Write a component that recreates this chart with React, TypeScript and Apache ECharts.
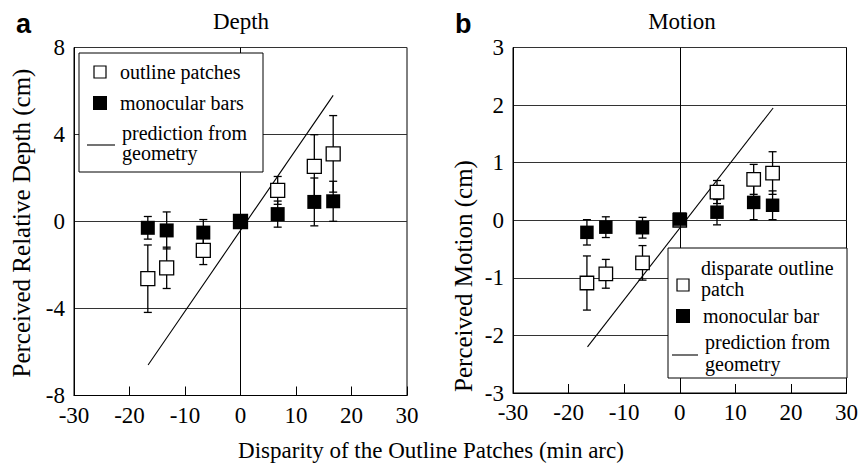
import React, { useEffect, useRef } from 'react';
import * as echarts from 'echarts';

// ---------- data ----------
const disparities = [-16.7, -13.3, -6.7, 0, 6.7, 13.3, 16.7];

const depthOutline = [-2.63, -2.13, -1.33, 0, 1.43, 2.53, 3.11];
const depthOutlineErr = [1.55, 0.95, 0.65, 0, 0.64, 1.46, 1.76];
const depthMono = [-0.29, -0.41, -0.51, 0, 0.34, 0.9, 0.93];
const depthMonoErr = [0.52, 0.85, 0.6, 0, 0.6, 1.1, 0.92];

const motionOutline = [-1.09, -0.93, -0.74, 0, 0.49, 0.71, 0.82];
const motionOutlineErr = [0.47, 0.25, 0.3, 0, 0.2, 0.26, 0.37];
const motionMono = [-0.21, -0.12, -0.13, 0.02, 0.14, 0.31, 0.26];
const motionMonoErr = [0.22, 0.18, 0.18, 0, 0.22, 0.3, 0.25];

const depthPredX = [-16.65, 16.7];
const depthPredY = [-6.6, 5.8];
const motionPredX = [-16.6, 16.8];
const motionPredY = [-2.2, 1.95];

const SERIF = 'Liberation Serif';
const SANS = 'Liberation Sans';

function pts(xs: number[], ys: number[]) {
  return xs.map((x, i) => [x, ys[i]]);
}
function errPts(xs: number[], ys: number[], es: number[]) {
  return xs.map((x, i) => [x, ys[i], es[i]]);
}

const errorRender = (params: any, api: any) => {
  const x = api.value(0);
  const y = api.value(1);
  const e = api.value(2);
  if (!e) return null;
  const top = api.coord([x, y + e]);
  const bot = api.coord([x, y - e]);
  const cap = 4;
  const style = { stroke: '#000', lineWidth: 1.3 };
  return {
    type: 'group',
    children: [
      { type: 'line', shape: { x1: top[0], y1: top[1], x2: bot[0], y2: bot[1] }, style },
      { type: 'line', shape: { x1: top[0] - cap, y1: top[1], x2: top[0] + cap, y2: top[1] }, style },
      { type: 'line', shape: { x1: bot[0] - cap, y1: bot[1], x2: bot[0] + cap, y2: bot[1] }, style },
    ],
  };
};

export default function App() {
  const ref = useRef<HTMLDivElement>(null);
  useEffect(() => {
    if (!ref.current) return;
    const chart = echarts.init(ref.current, undefined, { renderer: 'svg' });

    const xAxisBase = (gridIndex: number) => ({
      type: 'value',
      gridIndex,
      min: -30,
      max: 30,
      interval: 10,
      axisLine: { show: true, onZero: false, lineStyle: { color: '#000', width: 1 } },
      axisTick: { show: true, inside: true, length: 9, lineStyle: { color: '#000', width: 1 } },
      axisLabel: { color: '#000', fontFamily: SERIF, fontSize: 23, margin: 8 },
      splitLine: { show: false },
    });
    const yAxisBase = (gridIndex: number, min: number, max: number, interval: number) => ({
      type: 'value',
      gridIndex,
      min,
      max,
      interval,
      axisLine: { show: true, onZero: false, lineStyle: { color: '#000', width: 1 } },
      axisTick: { show: false },
      axisLabel: { color: '#000', fontFamily: SERIF, fontSize: 23, margin: 9 },
      splitLine: { show: true, lineStyle: { color: '#333', width: 1 } },
    });

    const zeroLine = {
      silent: true,
      symbol: 'none',
      label: { show: false },
      lineStyle: { color: '#000', width: 1, type: 'solid' },
      data: [{ xAxis: 0 }],
    };

    const makeSeries = (
      idx: number,
      outline: number[],
      outlineErr: number[],
      mono: number[],
      monoErr: number[],
      predX: number[],
      predY: number[],
      size: number
    ) => [
      {
        type: 'line',
        xAxisIndex: idx,
        yAxisIndex: idx,
        data: pts(predX, predY),
        showSymbol: false,
        symbol: 'none',
        lineStyle: { color: '#000', width: 1.1 },
        markLine: zeroLine,
        z: 2,
      },
      {
        type: 'custom',
        xAxisIndex: idx,
        yAxisIndex: idx,
        data: errPts(disparities, mono, monoErr),
        renderItem: errorRender,
        z: 3,
      },
      {
        type: 'custom',
        xAxisIndex: idx,
        yAxisIndex: idx,
        data: errPts(disparities, outline, outlineErr),
        renderItem: errorRender,
        z: 3,
      },
      {
        type: 'scatter',
        xAxisIndex: idx,
        yAxisIndex: idx,
        data: pts(disparities, outline),
        symbol: 'rect',
        symbolSize: size,
        itemStyle: { color: '#fff', borderColor: '#000', borderWidth: 1.3, opacity: 1 },
        z: 4,
      },
      {
        type: 'scatter',
        xAxisIndex: idx,
        yAxisIndex: idx,
        data: pts(disparities, mono),
        symbol: 'rect',
        symbolSize: size,
        itemStyle: { color: '#000', opacity: 1 },
        z: 5,
      },
    ];

    const txt = (text: string, x: number, y: number, size: number, opts: any = {}) => ({
      type: 'text',
      x,
      y,
      z: 100,
      rotation: opts.rotation || 0,
      style: {
        text,
        fontFamily: opts.family || SERIF,
        fontSize: size,
        fontWeight: opts.bold ? 'bold' : 'normal',
        fill: '#000',
        align: opts.align || 'left',
        verticalAlign: 'middle',
      },
    });

    const graphic: any[] = [
      // panel letters and titles
      txt('a', 16, 24, 27, { bold: true, family: SANS }),
      txt('b', 455, 24, 27, { bold: true, family: SANS }),
      txt('Depth', 241, 21, 23, { align: 'center' }),
      txt('Motion', 682, 21, 23, { align: 'center' }),
      // axis titles
      txt('Perceived Relative Depth (cm)', 21, 223, 25, { align: 'center', rotation: Math.PI / 2 }),
      txt('Perceived Motion (cm)', 463, 276, 25, { align: 'center', rotation: Math.PI / 2 }),
      txt('Disparity of the Outline Patches (min arc)', 431, 450, 23, { align: 'center' }),
      // left legend
      { type: 'rect', z: 90, shape: { x: 79, y: 53, width: 184, height: 119 }, style: { fill: '#fff', stroke: '#000', lineWidth: 1 } },
      { type: 'rect', z: 100, shape: { x: 94, y: 66, width: 12, height: 12 }, style: { fill: '#fff', stroke: '#000', lineWidth: 1.2 } },
      txt('outline patches', 120, 72, 20),
      { type: 'rect', z: 100, shape: { x: 93, y: 96, width: 14, height: 14 }, style: { fill: '#000' } },
      txt('monocular bars', 120, 103, 20),
      { type: 'line', z: 100, shape: { x1: 87, y1: 145, x2: 115, y2: 145 }, style: { stroke: '#000', lineWidth: 1.1 } },
      txt('prediction from', 122, 133, 20),
      txt('geometry', 122, 153, 20),
      // right legend
      { type: 'rect', z: 90, shape: { x: 668, y: 248, width: 179, height: 130 }, style: { fill: '#fff', stroke: '#000', lineWidth: 1 } },
      { type: 'rect', z: 100, shape: { x: 677, y: 279, width: 12, height: 12 }, style: { fill: '#fff', stroke: '#000', lineWidth: 1.2 } },
      txt('disparate outline', 701, 268, 20),
      txt('patch', 701, 289, 20),
      { type: 'rect', z: 100, shape: { x: 676, y: 309, width: 14, height: 14 }, style: { fill: '#000' } },
      txt('monocular bar', 703, 316, 20),
      { type: 'line', z: 100, shape: { x1: 672, y1: 355, x2: 698, y2: 355 }, style: { stroke: '#000', lineWidth: 1.1 } },
      txt('prediction from', 705, 342, 20),
      txt('geometry', 705, 364, 20),
    ];

    chart.setOption({
      animation: false,
      backgroundColor: '#fff',
      grid: [
        { left: 74, top: 47.5, width: 333, height: 348, show: true, borderColor: '#000', borderWidth: 1, backgroundColor: 'transparent' },
        { left: 513, top: 47.5, width: 338, height: 345.5, show: true, borderColor: '#000', borderWidth: 1, backgroundColor: 'transparent' },
      ],
      xAxis: [xAxisBase(0), xAxisBase(1)],
      yAxis: [yAxisBase(0, -8, 8, 4), yAxisBase(1, -3, 3, 1)],
      series: [
        ...makeSeries(0, depthOutline, depthOutlineErr, depthMono, depthMonoErr, depthPredX, depthPredY, 14),
        ...makeSeries(1, motionOutline, motionOutlineErr, motionMono, motionMonoErr, motionPredX, motionPredY, 13.5),
      ],
      graphic,
    });
    return () => chart.dispose();
  }, []);

  return (
    <div
      ref={ref}
      style={{ position: 'fixed', left: 0, top: 0, width: 861, height: 463, background: '#fff' }}
    />
  );
}
